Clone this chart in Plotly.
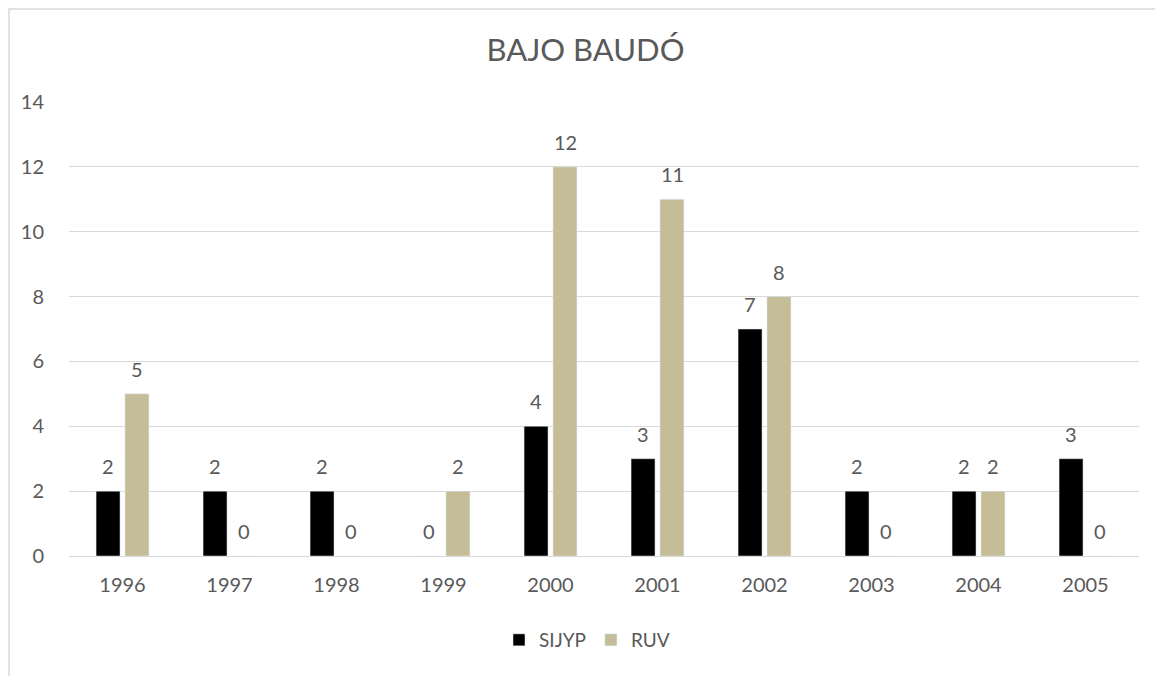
import plotly.graph_objects as go

years = ["1996", "1997", "1998", "1999", "2000", "2001", "2002", "2003", "2004", "2005"]
sijyp = [2, 2, 2, 0, 4, 3, 7, 2, 2, 3]
ruv = [5, 0, 0, 2, 12, 11, 8, 0, 2, 0]
y_ticks = [0, 2, 4, 6, 8, 10, 12, 14]

FONT = "Lato"
GRAY = "#595959"

W, H = 1155, 668
ML, MR, MT, MB = 61, 24, 94, 120
PW, PH = W - ML - MR, H - MT - MB
BAR_SHIFT = 14.5  # half the slot width of a bar within a group, px

fig = go.Figure()
fig.add_trace(go.Bar(x=years, y=sijyp, name="SIJYP", marker_color="#000000"))
fig.add_trace(go.Bar(x=years, y=ruv, name="RUV", marker_color="#C4BD97"))

annotations = []
for vals, shift in ((sijyp, -BAR_SHIFT), (ruv, BAR_SHIFT)):
    for idx, v in enumerate(vals):
        annotations.append(dict(x=idx, y=v, xref="x", yref="y", text=str(v),
                                showarrow=False, xshift=shift, yshift=25,
                                yanchor="middle", xanchor="center",
                                font=dict(size=20, color=GRAY, family=FONT)))

fig.update_layout(
    width=W, height=H,
    paper_bgcolor="white", plot_bgcolor="white",
    margin=dict(l=ML, r=MR, t=MT, b=MB),
    barmode="group", bargap=0.46, bargroupgap=0.17,
    title=dict(text="BAJO BAUDÓ", x=0.5, xanchor="center", y=1 - 42 / H, yanchor="middle",
               font=dict(size=31, color=GRAY, family=FONT)),
    font=dict(family=FONT, color=GRAY, size=20),
    legend=dict(orientation="h", x=0.5 - 17 / PW, xanchor="center", y=-84 / PH,
                yanchor="middle", font=dict(size=19, color=GRAY, family=FONT),
                itemwidth=30),
    xaxis=dict(type="category", range=[-0.5, len(years) - 0.5], showgrid=False,
               showline=True, linecolor="#D9D9D9", linewidth=1,
               tickfont=dict(size=20, color=GRAY), ticks="", ticklabelstandoff=11),
    yaxis=dict(range=[0, 14], tickvals=y_ticks, showgrid=True, gridcolor="#D9D9D9",
               gridwidth=1, zeroline=False, tickfont=dict(size=20, color=GRAY),
               ticklabelstandoff=24),
    annotations=annotations,
    shapes=[dict(type="rect", xref="paper", yref="paper",
                 x0=-(ML - 1) / PW, x1=1.2, y0=-0.5, y1=1 + (MT - 1) / PH,
                 line=dict(color="#D9D9D9", width=1.5), fillcolor="rgba(0,0,0,0)",
                 layer="below")],
)

fig.write_html("out.html")
